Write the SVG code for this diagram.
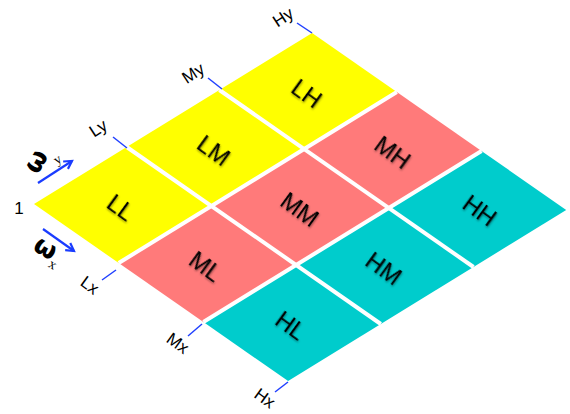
<svg xmlns="http://www.w3.org/2000/svg" width="570" height="414" viewBox="0 0 570 414">
<defs>
<style>
.cell-l{fill:#FFFF00}
.cell-m{fill:#FF7A7A}
.cell-h{fill:#00CCCC}
.gap{stroke:#fff;stroke-width:4;fill:none}
.tick{stroke:#2040ff;stroke-width:1.5;fill:none}
.ax{font-family:"Liberation Sans",Arial,sans-serif;font-size:17px;fill:#000;text-anchor:middle}
.lbl{font-family:"Liberation Sans",Arial,sans-serif;font-size:24px;fill:#000;text-anchor:middle;filter:url(#sh)}
.arr{stroke:#1a3cff;stroke-width:2.2;fill:none;marker-end:url(#ah)}
.om{font-family:"DejaVu Sans","Liberation Sans",sans-serif;font-size:26px;font-weight:bold;fill:#000;text-anchor:middle}
.sub{font-family:"Liberation Serif",serif;font-size:14px;fill:#000;text-anchor:middle}
</style>
<filter id="sh" x="-20%" y="-20%" width="140%" height="140%">
<feDropShadow dx="1" dy="1" stdDeviation="0.8" flood-color="#000" flood-opacity="0.45"/>
</filter>
<marker id="ah" viewBox="0 0 10 10" refX="8" refY="5" markerWidth="5" markerHeight="5" orient="auto" markerUnits="strokeWidth">
<path d="M1,1 L8,5 L1,9" fill="none" stroke="#1a3cff" stroke-width="2"/>
</marker>
</defs>

<g id="LL"><polygon class="cell-l" points="34,204 118.7,263 211.4,206 126.7,147"/><g transform="translate(121,207) rotate(36)"><text class="lbl" x="0" y="9">LL</text></g></g>
<g id="LM"><polygon class="cell-l" points="126.7,147 211.4,206 304.1,149 219.4,90"/><g transform="translate(214,150) rotate(36)"><text class="lbl" x="0" y="9">LM</text></g></g>
<g id="LH"><polygon class="cell-l" points="219.4,90 304.1,149 396.8,92 312.1,33"/><g transform="translate(307,93) rotate(36)"><text class="lbl" x="0" y="9">LH</text></g></g>
<g id="ML"><polygon class="cell-m" points="118.7,263 203.4,322 296.1,265 211.4,206"/><g transform="translate(206,266) rotate(36)"><text class="lbl" x="0" y="9">ML</text></g></g>
<g id="MM"><polygon class="cell-m" points="211.4,206 296.1,265 388.8,208 304.1,149"/><g transform="translate(300,209) rotate(36)"><text class="lbl" x="0" y="9">MM</text></g></g>
<g id="MH"><polygon class="cell-m" points="304.1,149 388.8,208 481.5,151 396.8,92"/><g transform="translate(393,152) rotate(36)"><text class="lbl" x="0" y="9">MH</text></g></g>
<g id="HL"><polygon class="cell-h" points="203.4,322 288.1,381 380.8,324 296.1,265"/><g transform="translate(291,325) rotate(36)"><text class="lbl" x="0" y="9">HL</text></g></g>
<g id="HM"><polygon class="cell-h" points="296.1,265 380.8,324 473.5,267 388.8,208"/><g transform="translate(384,268) rotate(36)"><text class="lbl" x="0" y="9">HM</text></g></g>
<g id="HH"><polygon class="cell-h" points="388.8,208 473.5,267 566.2,210 481.5,151"/><g transform="translate(480,210) rotate(36)"><text class="lbl" x="0" y="9">HH</text></g></g>

<g id="gaps">
<line class="gap" x1="126.7" y1="147" x2="380.8" y2="324"/>
<line class="gap" x1="219.4" y1="90" x2="473.5" y2="267"/>
<line class="gap" x1="118.7" y1="263" x2="396.8" y2="92"/>
<line class="gap" x1="203.4" y1="322" x2="481.5" y2="151"/>
</g>

<g id="ticks">
<line class="tick" x1="116" y1="270" x2="102" y2="280"/>
<line class="tick" x1="202" y1="324" x2="188" y2="336"/>
<line class="tick" x1="288" y1="382" x2="275" y2="392"/>
<line class="tick" x1="113" y1="137" x2="127" y2="148"/>
<line class="tick" x1="208" y1="78" x2="222" y2="89"/>
<line class="tick" x1="297" y1="23" x2="312" y2="33"/>
</g>

<g id="axis-labels">
<text class="ax" transform="translate(98,128) rotate(-33)" x="0" y="6">Ly</text>
<text class="ax" transform="translate(193,73) rotate(-33)" x="0" y="6">My</text>
<text class="ax" transform="translate(283,17) rotate(-33)" x="0" y="6">Hy</text>
<text class="ax" transform="translate(90,285) rotate(36)" x="0" y="6">Lx</text>
<text class="ax" transform="translate(178,343) rotate(36)" x="0" y="6">Mx</text>
<text class="ax" transform="translate(265,398) rotate(36)" x="0" y="6">Hx</text>
<text class="ax" x="19" y="214">1</text>
</g>

<g id="connectors">
<line class="arr" x1="38" y1="183" x2="72" y2="161"/>
<line class="arr" x1="43" y1="229" x2="74" y2="251"/>
</g>

<g id="omega-labels">
<text class="om" transform="translate(37,162) rotate(-60)" x="0" y="7">ω</text>
<text class="sub" transform="translate(57,159) rotate(-31.6)" x="0" y="5">y</text>
<text class="om" transform="translate(45,249) rotate(30)" x="0" y="7">ω</text>
<text class="sub" transform="translate(53,264) rotate(30)" x="0" y="5">x</text>
</g>
</svg>
